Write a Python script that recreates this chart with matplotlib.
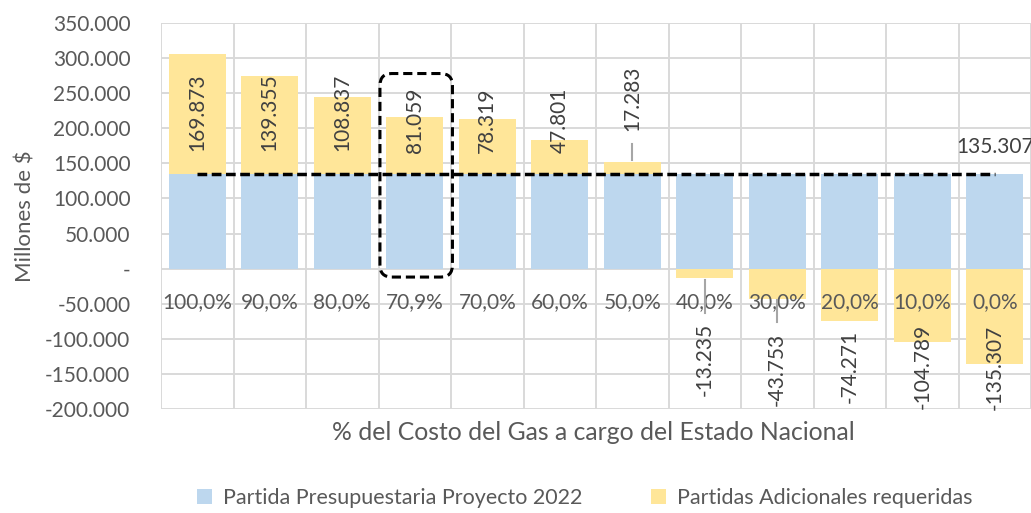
import matplotlib.pyplot as plt
from matplotlib.patches import FancyBboxPatch
from matplotlib.ticker import FuncFormatter

plt.rcParams['font.family'] = ['Lato', 'DejaVu Sans']

categorias = ['100,0%', '90,0%', '80,0%', '70,9%', '70,0%', '60,0%',
              '50,0%', '40,0%', '30,0%', '20,0%', '10,0%', '0,0%']
partida_2022 = [135307] * 12
adicionales = [169873, 139355, 108837, 81059, 78319, 47801,
               17283, -13235, -43753, -74271, -104789, -135307]
linea_base = 135307

# where the data labels sit (manual, like in the excel)
label_y = [223000, 223000, 223000, 211000, 211000, 211000,
           242000, -130000, -144000, -139000, -140000, -140000]

azul = '#BDD7EE'
amarillo = '#FFE699'
gris = '#595959'
grilla = '#D9D9D9'

def miles(v, pos=None):
    if v == 0:
        return '-'
    return f'{v:,.0f}'.replace(',', '.')

fig = plt.figure(figsize=(10.31, 5.13), dpi=100)
ax = fig.add_axes([161 / 1031, 1 - 409 / 513, 1 - 161 / 1031, (409 - 23) / 513])

x = list(range(len(categorias)))
ax.bar(x, partida_2022, width=0.79, color=azul, zorder=2,
       label='Partida Presupuestaria Proyecto 2022')
bottoms = [b if a > 0 else 0 for a, b in zip(adicionales, partida_2022)]
ax.bar(x, adicionales, width=0.79, bottom=bottoms, color=amarillo, zorder=2,
       label='Partidas Adicionales requeridas')

# dashed reference line
ax.plot([x[0], x[-1]], [linea_base, linea_base], color='black', lw=2.5,
        dashes=(2.8, 1.3), zorder=6)
ax.text(x[-1], linea_base + 38000, miles(linea_base), ha='center', va='center',
        fontsize=15, color='#404040', zorder=8)

# data labels
for i, v in enumerate(adicionales):
    ax.text(i, label_y[i], miles(v), rotation=90, ha='center', va='center',
            fontsize=15, color='#404040', zorder=8)

# leader lines
ax.plot([6, 6], [178000, 155000], color='#A6A6A6', lw=1.5, zorder=6)
ax.plot([7, 7], [-16000, -63000], color='#A6A6A6', lw=1.5, zorder=6)
ax.plot([8, 8], [-45000, -76000], color='#A6A6A6', lw=1.5, zorder=6)

# rounded dashed box around 70,9%
px_x = 1 / 73.4
px_y = 1425.0
caja = FancyBboxPatch((3 - 0.48, -12000), 1.0, 290000,
                      boxstyle='round,pad=0,rounding_size=%f' % (12 * px_x),
                      mutation_aspect=px_y / px_x, fill=False, ec='black',
                      lw=2.2, ls=(0, (3, 1.6)), zorder=7, clip_on=False)
ax.add_patch(caja)

ax.set_xlim(-0.5, 11.35)
ax.set_ylim(-200000, 350000)
ax.set_yticks(range(-200000, 350001, 50000))
ax.yaxis.set_major_formatter(FuncFormatter(miles))
ax.set_xticks(x)
ax.set_xticklabels(categorias)
ax.set_xticks([i - 0.5 for i in range(13)], minor=True)

ax.spines['bottom'].set_position(('data', 0))
for s in ax.spines.values():
    s.set_visible(False)
ax.tick_params(axis='x', which='both', length=0, pad=17, labelsize=15, labelcolor=gris)
ax.tick_params(axis='y', length=0, pad=22, labelsize=15, labelcolor=gris)

ax.grid(axis='y', which='major', color=grilla, lw=1.4)
ax.grid(axis='x', which='minor', color=grilla, lw=1.4)
ax.set_axisbelow(True)
# category labels go over the bars, vertical grid falls between bars anyway
ax.xaxis.set_zorder(5)

ax.set_ylabel('Millones de $', fontsize=16, color=gris, labelpad=7)
fig.text(593 / 1031, 1 - 432 / 513, '% del Costo del Gas a cargo del Estado Nacional',
         ha='center', va='center', fontsize=17.8, color=gris)

fig.legend(loc='center', bbox_to_anchor=(585 / 1031, 1 - 498 / 513), ncol=2,
           frameon=False, fontsize=15.5, labelcolor=gris, handlelength=0.7,
           handleheight=0.7, columnspacing=3.2, handletextpad=0.5)

fig.savefig('out.png', dpi=100)
